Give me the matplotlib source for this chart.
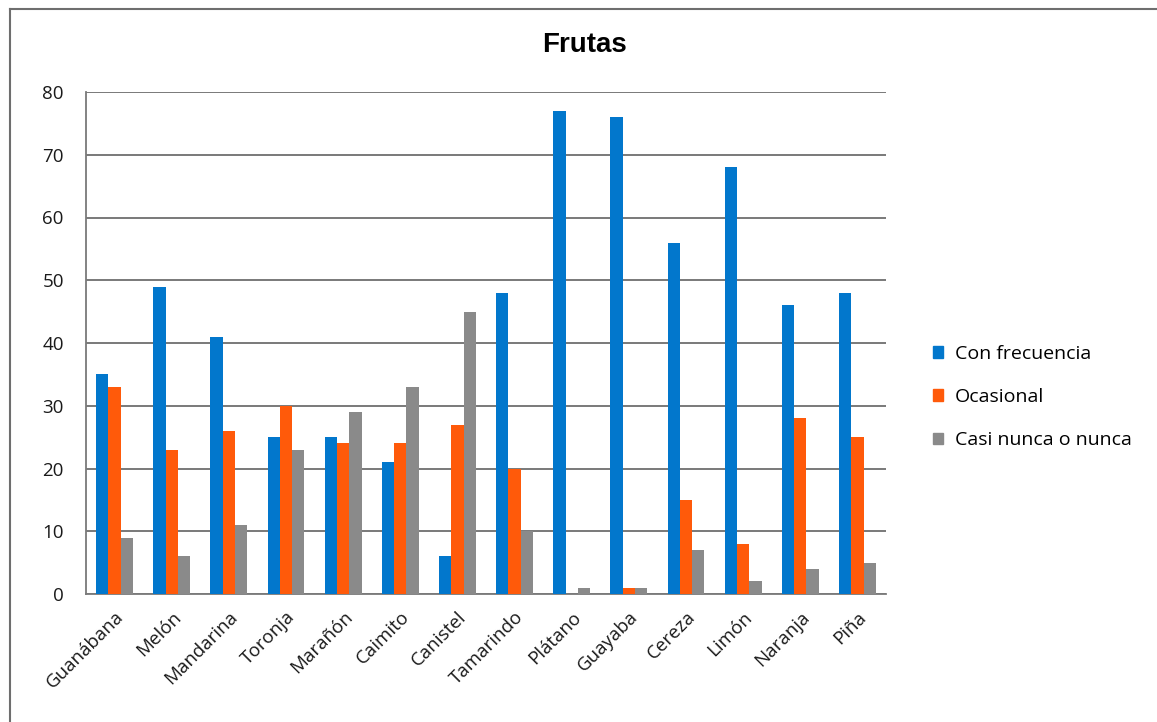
import matplotlib
matplotlib.use("Agg")
import matplotlib.pyplot as plt
import matplotlib.patches as mpatches
from matplotlib.lines import Line2D
import numpy as np

frutas = ["Guanábana", "Melón", "Mandarina", "Toronja", "Marañón", "Caimito", "Canistel",
          "Tamarindo", "Plátano", "Guayaba", "Cereza", "Limón", "Naranja", "Piña"]
con_frecuencia = [35, 49, 41, 25, 25, 21, 6, 48, 77, 76, 56, 68, 46, 48]
ocasional = [33, 23, 26, 30, 24, 24, 27, 20, 0, 1, 15, 8, 28, 25]
casi_nunca = [9, 6, 11, 23, 29, 33, 45, 10, 1, 1, 7, 2, 4, 5]

series = [
    ("Con frecuencia", con_frecuencia, "#0277cc"),
    ("Ocasional", ocasional, "#ff5a0a"),
    ("Casi nunca o nunca", casi_nunca, "#8a8a8a"),
]

plt.rcParams["font.family"] = ["Open Sans", "DejaVu Sans"]

fig = plt.figure(figsize=(11.57, 7.22), dpi=100)
ax = fig.add_axes([86 / 1157, 1 - 594 / 722, 800 / 1157, 502 / 722])

x = np.arange(len(frutas))
w = 0.215
for i, (name, vals, col) in enumerate(series):
    ax.bar(x + (i - 1) * w, vals, width=w, color=col, label=name, zorder=3)

ax.set_xlim(-0.5, len(frutas) - 0.5)
ax.set_ylim(0, 80)
ax.set_yticks(range(0, 81, 10))
ax.yaxis.grid(True, color="#6e6e6e", linewidth=1.3, zorder=0)
ax.set_xticks(x)
ax.set_xticklabels(frutas, rotation=45, ha="right", rotation_mode="anchor")
ax.tick_params(axis="both", length=0, labelsize=13.5, colors="#1a1a1a")
ax.tick_params(axis="y", pad=16)
ax.tick_params(axis="x", pad=10)
for s in ("top", "right"):
    ax.spines[s].set_visible(False)
for s in ("left", "bottom"):
    ax.spines[s].set_color("#7a7a7a")
    ax.spines[s].set_linewidth(1.3)

fig.text(585 / 1157, 1 - 45 / 722, "Frutas", ha="center", va="center",
         fontsize=20, fontweight="bold", family="Liberation Sans")

handles = [mpatches.Patch(color=c, label=n) for n, _, c in series]
fig.legend(handles=handles, loc="center left", bbox_to_anchor=(915 / 1157, 1 - 397 / 722),
           frameon=False, fontsize=14, handlelength=0.55, handleheight=0.55,
           handletextpad=0.6, labelspacing=1.3)

# marco del gráfico
fig.add_artist(Line2D([10 / 1157, 1], [1 - 9 / 722, 1 - 9 / 722], color="#6e6e6e", lw=1.5))
fig.add_artist(Line2D([10 / 1157, 10 / 1157], [0, 1 - 9 / 722], color="#6e6e6e", lw=1.5))

plt.savefig("out.png")
